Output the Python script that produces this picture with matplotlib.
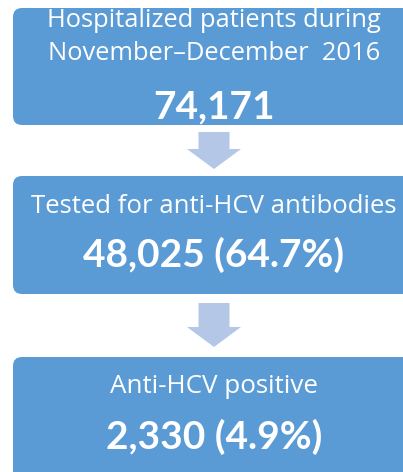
import matplotlib
matplotlib.use('Agg')
import matplotlib.pyplot as plt
from matplotlib.patches import FancyBboxPatch, FancyArrow

# flow steps
labels = ['Hospitalized patients during\nNovember\u2013December  2016',
          'Tested for anti-HCV antibodies',
          'Anti-HCV positive']
counts = ['74,171', '48,025 (64.7%)', '2,330 (4.9%)']

box_color = '#5b9bd5'
arrow_color = '#b4c7e7'
W, H = 403, 472

# box layout in pixels: (top, bottom), label baseline(s), count baseline
boxes = [(8, 125), (176, 294), (357, 480)]
label_base = [[27, 60], [213], [393]]
count_base = [118, 267, 449]
label_size = [18.4, 18.5, 18.7]
count_size = [28, 28, 28]
arrows = [(132, 169), (303, 347)]
cx = 214

plt.rcParams['font.family'] = ['Lato', 'DejaVu Sans']
fig = plt.figure(figsize=(W / 100, H / 100), dpi=100)
ax = fig.add_axes([0, 0, 1, 1])
ax.set_xlim(0, W)
ax.set_ylim(H, 0)
ax.axis('off')

for i, (top, bot) in enumerate(boxes):
    ax.add_patch(FancyBboxPatch((13, top), 420, bot - top,
                                boxstyle='round,pad=0,rounding_size=9',
                                fc=box_color, ec='none'))
    for line, yb in zip(labels[i].split('\n'), label_base[i]):
        ax.text(cx, yb, line, color='white', fontsize=label_size[i],
                family=['Open Sans', 'DejaVu Sans'],
                ha='center', va='baseline')
    ax.text(cx, count_base[i], counts[i], color='white', fontsize=count_size[i],
            fontweight='bold', ha='center', va='baseline')

for y0, y1 in arrows:
    ax.add_patch(FancyArrow(cx, y0, 0, y1 - y0, width=31, head_width=54,
                            head_length=20, length_includes_head=True,
                            fc=arrow_color, ec='none'))

fig.savefig('out.png', dpi=100)
